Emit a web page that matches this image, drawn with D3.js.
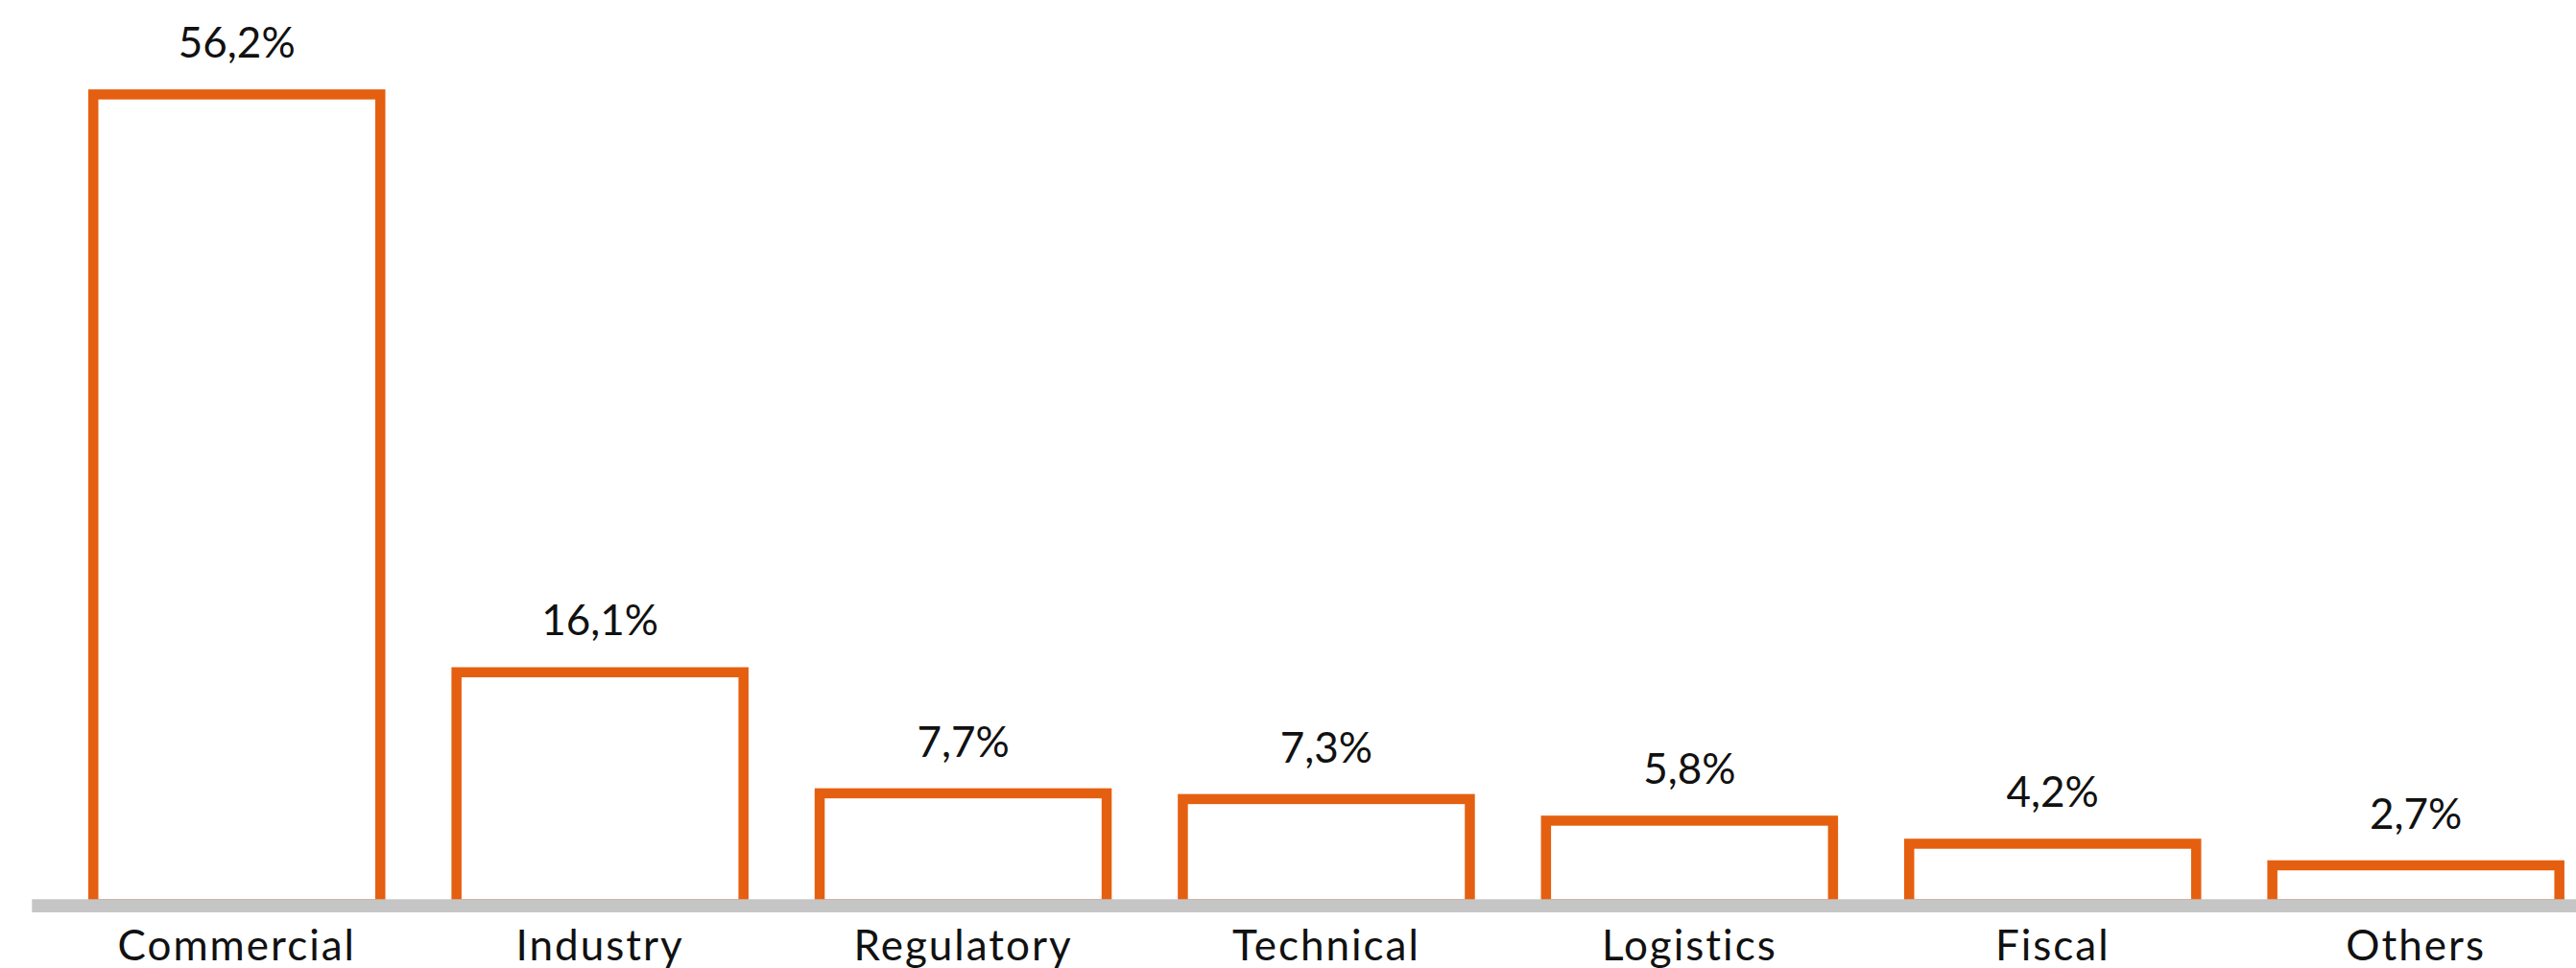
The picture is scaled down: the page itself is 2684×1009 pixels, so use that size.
<!DOCTYPE html>
<html>
<head>
<meta charset="utf-8">
<script src="https://cdn.jsdelivr.net/npm/d3@7/dist/d3.min.js"></script>
<style>
  html, body { margin: 0; padding: 0; background: #ffffff; }
  svg { display: block; }
  .value-label, .tick text { font-family: Lato, "Open Sans", sans-serif; fill: #111111; }
</style>
</head>
<body>
<div id="chart"></div>
<script>
// Share of cases by category (percent)
const categories = ["Commercial", "Industry", "Regulatory", "Technical", "Logistics", "Fiscal", "Others"];
const values = [56.2, 16.1, 7.7, 7.3, 5.8, 4.2, 2.7];
const valueLabels = ["56,2%", "16,1%", "7,7%", "7,3%", "5,8%", "4,2%", "2,7%"];

const width = 2684, height = 1009;
const baseline = 937.3;       // top edge of the grey floor line
const floorHeight = 13.7;
const strokeW = 10.5;
const orange = "#e55f10";
const grey = "#c5c5c5";

const svg = d3.select("#chart").append("svg")
  .attr("width", width)
  .attr("height", height);

const x = d3.scaleBand()
  .domain(categories)
  .range([57.55, 57.55 + 7 * 378.4])
  .paddingInner(0.182)
  .paddingOuter(0.091);

const y = d3.scaleLinear()
  .domain([0, 60])
  .range([baseline, baseline - 60 * 15.02]);

const data = categories.map((c, i) => ({ c, v: values[i], label: valueLabels[i] }));

// Outlined bars; the bottom edge sits hidden under the floor line
svg.append("g")
  .selectAll("rect")
  .data(data)
  .join("rect")
  .attr("x", d => x(d.c) + strokeW / 2)
  .attr("y", d => y(d.v) + strokeW / 2)
  .attr("width", x.bandwidth() - strokeW)
  .attr("height", d => (baseline + strokeW / 2) - (y(d.v) + strokeW / 2))
  .attr("fill", "#ffffff")
  .attr("stroke", orange)
  .attr("stroke-width", strokeW);

// Grey floor line
svg.append("rect")
  .attr("x", 33.3)
  .attr("y", baseline)
  .attr("width", width - 33.3)
  .attr("height", floorHeight)
  .attr("fill", grey);

// Value labels above each bar
svg.append("g")
  .selectAll("text")
  .data(data)
  .join("text")
  .attr("class", "value-label")
  .attr("x", d => x(d.c) + x.bandwidth() / 2)
  .attr("y", d => y(d.v) - 33)
  .attr("text-anchor", "middle")
  .attr("font-size", 44)
  .text(d => d.label);

// Category axis below the floor
const xAxis = d3.axisBottom(x).tickSize(0).tickSizeOuter(0);
const axisG = svg.append("g")
  .attr("transform", `translate(0,${baseline + floorHeight})`)
  .call(xAxis);
axisG.select(".domain").remove();
axisG.selectAll(".tick text")
  .attr("y", 50)
  .attr("dy", 0)
  .attr("font-size", 44)
  .attr("letter-spacing", 2)
  .attr("font-family", "Lato, 'Open Sans', sans-serif");
</script>
</body>
</html>
